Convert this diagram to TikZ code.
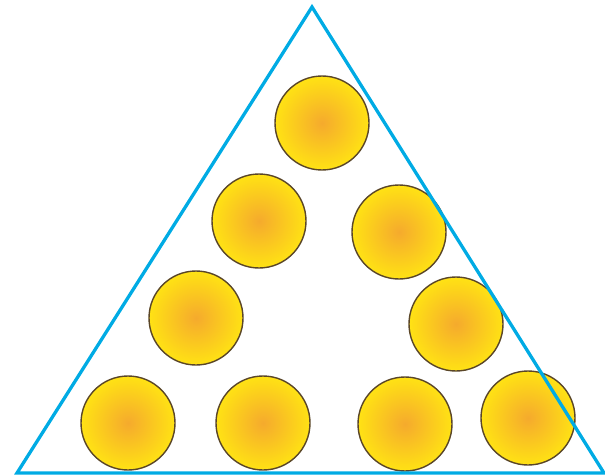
\documentclass[tikz,border=0pt]{standalone}
\usepackage{tikz}
\definecolor{triblue}{RGB}{0,171,228}
\definecolor{coinyellow}{RGB}{255,226,20}
\definecolor{coinorange}{RGB}{245,170,45}
\definecolor{coinrim}{RGB}{90,70,40}
\tikzset{
  coin/.style={inner color=coinorange, outer color=coinyellow, draw=coinrim, line width=1.4pt},
  frame/.style={draw=triblue, line width=3.3pt, line join=miter}
}
\begin{document}
\begin{tikzpicture}[x=1pt, y=-1pt]

\useasboundingbox (0,0) rectangle (605,476);

% --- Coins ---
\foreach \cx/\cy in {322/123, 259/221, 399/232, 196/318, 456/324, 128/423, 263/423, 405/424, 528/418} {
  \shade[coin] (\cx,\cy) circle (47);
}

% --- Triangle ---
\draw[frame] (312,7) -- (604,473) -- (17,473) -- cycle;

\end{tikzpicture}
\end{document}
